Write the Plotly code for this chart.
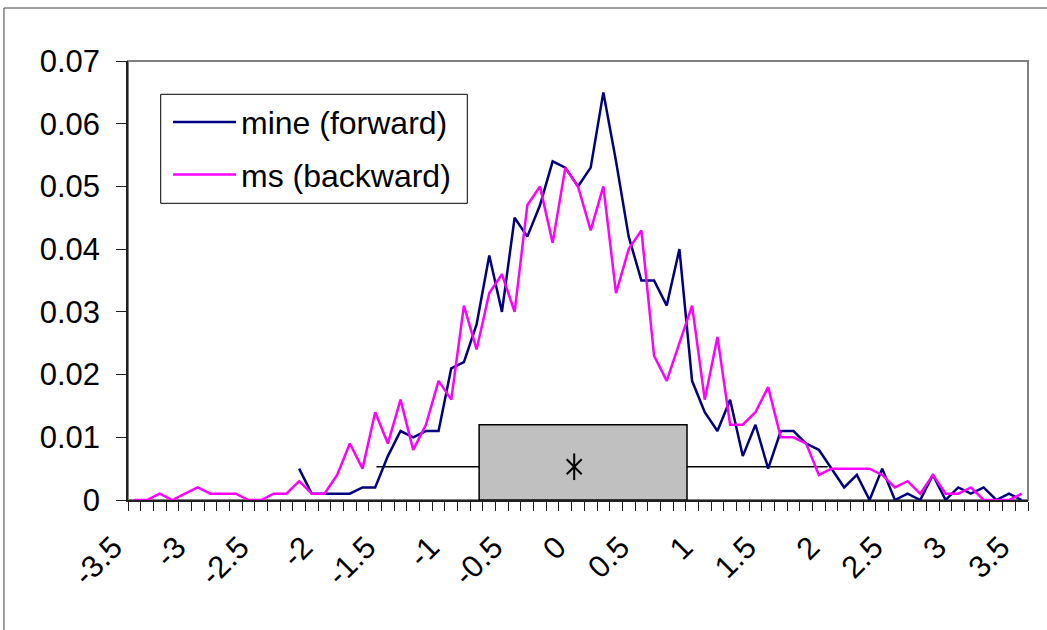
import plotly.graph_objects as go

# ---- data ----
categories = [-3.5, -3.4, -3.3, -3.2, -3.1, -3.0, -2.9, -2.8, -2.7, -2.6,
              -2.5, -2.4, -2.3, -2.2, -2.1, -2.0, -1.9, -1.8, -1.7, -1.6,
              -1.5, -1.4, -1.3, -1.2, -1.1, -1.0, -0.9, -0.8, -0.7, -0.6,
              -0.5, -0.4, -0.3, -0.2, -0.1, 0.0, 0.1, 0.2, 0.3, 0.4,
              0.5, 0.6, 0.7, 0.8, 0.9, 1.0, 1.1, 1.2, 1.3, 1.4,
              1.5, 1.6, 1.7, 1.8, 1.9, 2.0, 2.1, 2.2, 2.3, 2.4,
              2.5, 2.6, 2.7, 2.8, 2.9, 3.0, 3.1, 3.2, 3.3, 3.4, 3.5]

mine_forward = [None, None, None, None, None, None, None, None, None, None,
                None, None, None, 0.005, 0.001, 0.001, 0.001, 0.001, 0.002, 0.002,
                0.007, 0.011, 0.010, 0.011, 0.011, 0.021, 0.022, 0.028, 0.039, 0.030,
                0.045, 0.042, 0.047, 0.054, 0.053, 0.050, 0.053, 0.065, 0.054, 0.042,
                0.035, 0.035, 0.031, 0.040, 0.019, 0.014, 0.011, 0.016, 0.007, 0.012,
                0.005, 0.011, 0.011, 0.009, 0.008, 0.005, 0.002, 0.004, 0.000, 0.005,
                0.000, 0.001, 0.000, 0.004, 0.000, 0.002, 0.001, 0.002, 0.000, 0.001, 0.000]

ms_backward = [0.000, 0.000, 0.001, 0.000, 0.001, 0.002, 0.001, 0.001, 0.001, 0.000,
               0.000, 0.001, 0.001, 0.003, 0.001, 0.001, 0.004, 0.009, 0.005, 0.014,
               0.009, 0.016, 0.008, 0.012, 0.019, 0.016, 0.031, 0.024, 0.033, 0.036,
               0.030, 0.047, 0.050, 0.041, 0.053, 0.050, 0.043, 0.050, 0.033, 0.040,
               0.043, 0.023, 0.019, 0.025, 0.031, 0.016, 0.026, 0.012, 0.012, 0.014,
               0.018, 0.010, 0.010, 0.009, 0.004, 0.005, 0.005, 0.005, 0.005, 0.004,
               0.002, 0.003, 0.001, 0.004, 0.001, 0.001, 0.002, 0.000, 0.000, 0.000, 0.001]

x_tick_vals = [-3.5, -3.0, -2.5, -2.0, -1.5, -1.0, -0.5, 0.0, 0.5, 1.0, 1.5, 2.0, 2.5, 3.0, 3.5]
x_tick_text = ["-3.5", "-3", "-2.5", "-2", "-1.5", "-1", "-0.5", "0", "0.5", "1",
               "1.5", "2", "2.5", "3", "3.5"]
y_tick_vals = [0, 0.01, 0.02, 0.03, 0.04, 0.05, 0.06, 0.07]
y_tick_text = ["0", "0.01", "0.02", "0.03", "0.04", "0.05", "0.06", "0.07"]

# box summary (drawn near the axis)
box_low, box_high = -0.78, 0.86
whisker_low, whisker_high = -1.59, 1.97
box_top = 0.012
whisker_level = 0.0053
mean_value = -0.03

FONT = "Liberation Sans, Arial, sans-serif"

fig = go.Figure()

fig.add_trace(go.Scatter(x=categories, y=mine_forward, mode="lines",
                         name="mine (forward)", legendgroup="a",
                         line=dict(color="#000080", width=2.5),
                         connectgaps=False))
fig.add_trace(go.Scatter(x=categories, y=ms_backward, mode="lines",
                         name="ms (backward)", legendgroup="b",
                         line=dict(color="#FF00FF", width=2.5)))

# mean marker (asterisk: vertical + diagonal cross)
fig.add_trace(go.Scatter(x=[mean_value], y=[whisker_level], mode="markers",
                         showlegend=False, hoverinfo="skip",
                         marker=dict(symbol="x-thin-open", size=15, color="black",
                                     line=dict(color="black", width=2))))
fig.add_trace(go.Scatter(x=[mean_value], y=[whisker_level], mode="markers",
                         showlegend=False, hoverinfo="skip",
                         marker=dict(symbol="line-ns-open", size=19, color="black",
                                     line=dict(color="black", width=2))))

shapes = [
    # plot area border (grey)
    dict(type="rect", xref="paper", yref="paper", x0=0, x1=1, y0=0, y1=1,
         line=dict(color="#808080", width=2), layer="below"),
    # whisker line
    dict(type="line", xref="x", yref="y", x0=whisker_low, x1=whisker_high,
         y0=whisker_level, y1=whisker_level, line=dict(color="black", width=1.5),
         layer="below"),
    # box
    dict(type="rect", xref="x", yref="y", x0=box_low, x1=box_high,
         y0=0, y1=box_top, fillcolor="#C0C0C0",
         line=dict(color="black", width=1.5), layer="below"),
    # chart area border (top and left)
    dict(type="line", xref="paper", yref="paper", x0=-0.1378, x1=1.05,
         y0=1.1207, y1=1.1207, line=dict(color="#404040", width=1)),
    dict(type="line", xref="paper", yref="paper", x0=-0.1378, x1=-0.1378,
         y0=-0.4, y1=1.1207, line=dict(color="#404040", width=1)),
    # legend frame
    dict(type="rect", xref="paper", yref="paper",
         x0=(160.7 - 128) / 900, x1=(467.3 - 128) / 900,
         y0=(500 - 203.3) / 439, y1=(500 - 94.3) / 439,
         fillcolor="white", line=dict(color="black", width=1), layer="above"),
]

fig.update_layout(
    width=1047, height=630,
    margin=dict(l=128, r=19, t=61, b=130),
    paper_bgcolor="white", plot_bgcolor="white",
    font=dict(family=FONT, size=31, color="black"),
    shapes=shapes,
    showlegend=True,
    legend=dict(x=(168 - 128) / 900, y=(500 - 94.6) / 439,
                xanchor="left", yanchor="top",
                borderwidth=0, bgcolor="rgba(255,255,255,0)",
                font=dict(family=FONT, size=32, color="black"),
                itemwidth=63, tracegroupgap=8),
    xaxis=dict(range=[-3.55, 3.55], showgrid=False, zeroline=False,
               showline=True, linecolor="#202020", linewidth=1.5,
               tickmode="array", tickvals=x_tick_vals, ticktext=x_tick_text,
               ticks="", tickangle=-45, ticklabelstandoff=15, ticklabelshift=-21,
               tickfont=dict(family=FONT, size=31, color="black"),
               minor=dict(tick0=-3.55, dtick=0.1, ticks="outside", ticklen=9,
                          tickcolor="#202020", tickwidth=1, showgrid=False)),
    yaxis=dict(range=[0, 0.07], showgrid=False, zeroline=False,
               showline=True, linecolor="#202020", linewidth=1.5,
               tickmode="array", tickvals=y_tick_vals, ticktext=y_tick_text,
               ticks="outside", ticklen=10, tickcolor="#202020", tickwidth=1,
               ticklabelstandoff=10,
               tickfont=dict(family=FONT, size=31, color="black")),
)

fig.write_html("out.html")
